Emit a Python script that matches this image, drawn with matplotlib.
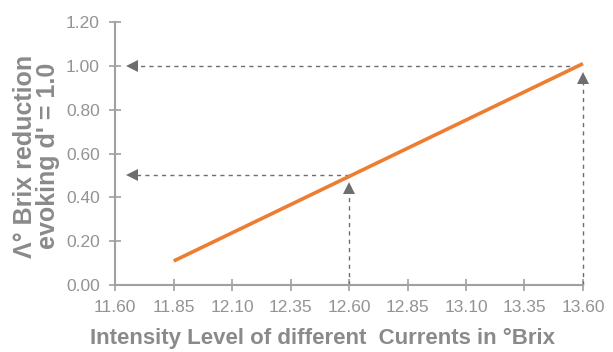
import matplotlib
matplotlib.use("Agg")
import matplotlib.pyplot as plt

plt.rcParams['font.family'] = ['Liberation Sans', 'DejaVu Sans']

# Fitted line: concentration level vs. reduction evoking d' = 1.0
line_x = [11.85, 13.60]
line_y = [0.11, 1.01]

# Reference readings marked with dashed arrows
ref_x = [12.60, 13.60]
ref_y = [0.50, 1.00]
arrow_head_y = [0.445, 0.945]
h_start_x = [12.60, 13.58]
h_head_x = 11.67

x_ticks = [11.60, 11.85, 12.10, 12.35, 12.60, 12.85, 13.10, 13.35, 13.60]
y_ticks = [0.00, 0.20, 0.40, 0.60, 0.80, 1.00, 1.20]

gray = '#8a8a8a'
dark = '#6e6e6e'
orange = '#ed7d31'

fig = plt.figure(figsize=(6.13, 3.52), dpi=100)
ax = fig.add_axes([0.188, 0.19, 0.763, 0.7475])

ax.plot(line_x, line_y, color=orange, lw=2.6, solid_capstyle='butt', zorder=3,
        clip_on=False)

dash = dict(color=dark, lw=1.0, linestyle=(0, (3, 3)), zorder=2, clip_on=False)

# Horizontal dashed guides ending in left-pointing heads near the y axis
for xs, yv in zip(h_start_x, ref_y):
    ax.plot([xs, h_head_x], [yv, yv], **dash)
    ax.plot([h_head_x], [yv], marker='<', markersize=9, color=dark,
            markeredgewidth=0, zorder=4, clip_on=False)

# Vertical dashed guides rising from the x axis towards the line
for xv, yh in zip(ref_x, arrow_head_y):
    ax.plot([xv, xv], [0.0, yh], **dash)
    ax.plot([xv], [yh], marker='^', markersize=9, color=dark,
            markeredgewidth=0, zorder=4, clip_on=False)

ax.set_xlim(11.60, 13.60)
ax.set_ylim(0, 1.20)
ax.set_xticks(x_ticks)
ax.set_xticklabels([f'{v:.2f}' for v in x_ticks])
ax.set_yticks(y_ticks)
ax.set_yticklabels([f'{v:.2f}' for v in y_ticks])

for side in ['top', 'right']:
    ax.spines[side].set_visible(False)
for side in ['left', 'bottom']:
    ax.spines[side].set_color('#a0a0a0')
    ax.spines[side].set_linewidth(1.5)
    ax.spines[side].set_clip_on(False)

ax.tick_params(axis='both', colors='#a0a0a0', labelcolor='#939393', labelsize=12.5,
               direction='inout', length=8, width=1.2)
ax.tick_params(axis='x', pad=7)
ax.tick_params(axis='y', pad=7)

ax.set_xlabel('Intensity Level of different  Currents in °Brix', fontsize=16,
              fontweight='bold', color=gray)
ax.xaxis.set_label_coords(0.444, -0.162)
ax.set_ylabel("Λ° Brix reduction\nevoking d' = 1.0", fontsize=18,
              fontweight='bold', color=gray, linespacing=0.95)
ax.yaxis.set_label_coords(-0.118, 0.49)

fig.savefig('out.png', dpi=100)
